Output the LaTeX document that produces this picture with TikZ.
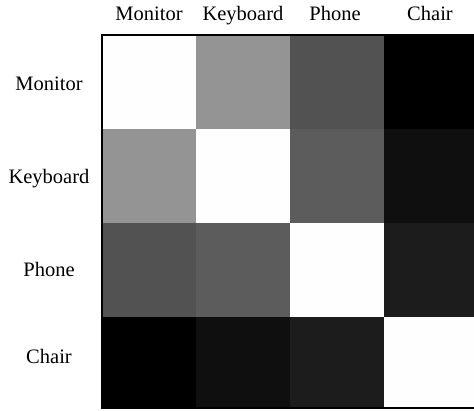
\documentclass[tikz,border=0pt]{standalone}
\usepackage{fontspec}
\setmainfont{Liberation Serif}
\definecolor{cMK}{gray}{0.58}
\definecolor{cMP}{gray}{0.32}
\definecolor{cMC}{gray}{0.0}
\definecolor{cKP}{gray}{0.36}
\definecolor{cKC}{gray}{0.06}
\definecolor{cPC}{gray}{0.11}
\definecolor{cD}{gray}{0.995}
\begin{document}
\begin{tikzpicture}[x=1pt,y=-1pt,
  lbl/.style={font=\fontsize{20.5}{24}\selectfont, inner sep=0pt, anchor=base}]
\useasboundingbox (0,0) rectangle (474,410);
% cell boundaries
\def\xa{102}\def\xb{196}\def\xc{290}\def\xd{384}\def\xe{477}
\def\ya{35}\def\yb{129}\def\yc{223}\def\yd{317}\def\ye{408}
% row Monitor
\fill[cD]  (\xa,\ya) rectangle (\xb,\yb);
\fill[cMK] (\xb,\ya) rectangle (\xc,\yb);
\fill[cMP] (\xc,\ya) rectangle (\xd,\yb);
\fill[cMC] (\xd,\ya) rectangle (\xe,\yb);
% row Keyboard
\fill[cMK] (\xa,\yb) rectangle (\xb,\yc);
\fill[cD]  (\xb,\yb) rectangle (\xc,\yc);
\fill[cKP] (\xc,\yb) rectangle (\xd,\yc);
\fill[cKC] (\xd,\yb) rectangle (\xe,\yc);
% row Phone
\fill[cMP] (\xa,\yc) rectangle (\xb,\yd);
\fill[cKP] (\xb,\yc) rectangle (\xc,\yd);
\fill[cD]  (\xc,\yc) rectangle (\xd,\yd);
\fill[cPC] (\xd,\yc) rectangle (\xe,\yd);
% row Chair
\fill[cMC] (\xa,\yd) rectangle (\xb,\ye);
\fill[cKC] (\xb,\yd) rectangle (\xc,\ye);
\fill[cPC] (\xc,\yd) rectangle (\xd,\ye);
\fill[cD]  (\xd,\yd) rectangle (\xe,\ye);
% frame
\draw[line width=2pt] (\xa,\ya) rectangle (\xe,\ye);
% column labels
\node[lbl] (tM) at (149,20) {Monitor};
\node[lbl] (tK) at (243,20) {Keyboard};
\node[lbl] (tP) at (335,20) {Phone};
\node[lbl] (tC) at (430,20) {Chair};
% row labels
\node[lbl] (lM) at (49,90) {Monitor};
\node[lbl] (lK) at (49,183) {Keyboard};
\node[lbl] (lP) at (49,276) {Phone};
\node[lbl] (lC) at (49,363) {Chair};
\end{tikzpicture}
\end{document}
